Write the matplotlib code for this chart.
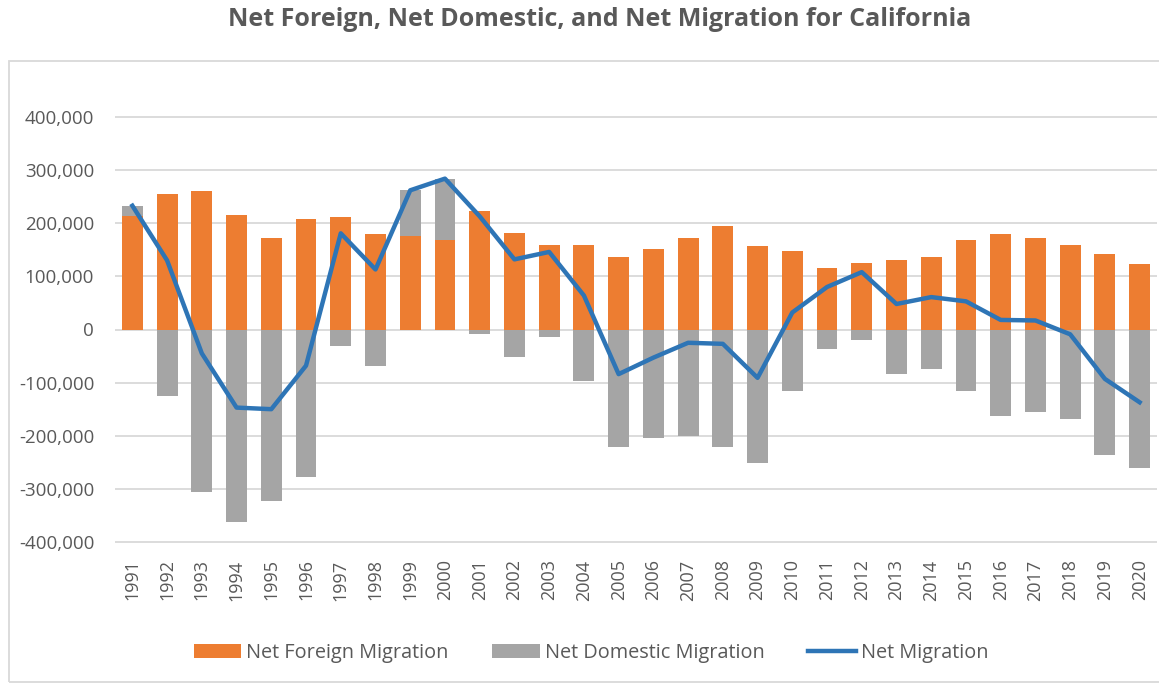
import numpy as np
import matplotlib
matplotlib.use('Agg')
import matplotlib.pyplot as plt
from matplotlib.patches import Patch, Rectangle
from matplotlib.lines import Line2D
from matplotlib.ticker import FuncFormatter

years = [str(y) for y in range(1991, 2021)]
# values (persons)
net_foreign = [213000, 256000, 261000, 215000, 173000, 208000, 211000, 180000, 176000, 168000,
               223000, 182000, 160000, 160000, 137000, 151000, 173000, 194000, 158000, 147000,
               116000, 126000, 130000, 136000, 168000, 180000, 172000, 159000, 143000, 124000]
net_domestic = [20000, -126000, -306000, -362000, -323000, -278000, -31000, -68000, 86000, 116000,
                -9000, -51000, -15000, -97000, -222000, -205000, -200000, -222000, -251000, -116000,
                -36000, -19000, -83000, -75000, -115000, -163000, -155000, -168000, -236000, -261000]
net_migration = [233000, 130000, -45000, -147000, -150000, -68000, 181000, 113000, 262000, 284000,
                 213000, 132000, 146000, 64000, -84000, -53000, -25000, -27000, -91000, 32000,
                 80000, 108000, 48000, 61000, 53000, 18000, 17000, -9000, -93000, -137000]

orange = '#ED7D31'
gray = '#A5A5A5'
blue = '#2E75B6'
txt = '#595959'

plt.rcParams['font.family'] = ['Open Sans', 'DejaVu Sans']

W, H = 1159, 689
fig = plt.figure(figsize=(W / 100, H / 100), dpi=100)

# chart frame
fig.patches.append(Rectangle((9 / W, 1 - 682 / H), 1.2, (682 - 61) / H, transform=fig.transFigure,
                             fill=False, edgecolor='#D9D9D9', linewidth=1.3))

fig.text(600 / W, 1 - 20 / H, 'Net Foreign, Net Domestic, and Net Migration for California',
         ha='center', va='center', fontsize=18, fontweight='bold', color=txt)

pad = 4000
top_px, bot_px = 117 - 53.1 * pad / 100000, 542 + 53.1 * pad / 100000
ax = fig.add_axes([115 / W, 1 - bot_px / H, (1157 - 115) / W, (bot_px - top_px) / H])

x = np.arange(len(years))
dom = np.array(net_domestic)
fore = np.array(net_foreign)
bottom = np.where(dom > 0, fore, 0)
ax.bar(x, fore, width=0.6, color=orange, zorder=2)
ax.bar(x, dom, width=0.6, bottom=bottom, color=gray, zorder=2)
ax.plot(x, net_migration, color=blue, linewidth=3.2, zorder=3, solid_joinstyle='round')

ax.set_xlim(-0.5, len(years) - 0.5)
ax.set_ylim(-400000 - pad, 400000 + pad)
ax.set_yticks(np.arange(-400000, 400001, 100000))
ax.yaxis.set_major_formatter(FuncFormatter(lambda v, p: '{:,.0f}'.format(v)))
ax.set_xticks(x)
ax.set_xticklabels(years, rotation=90)
ax.grid(axis='y', color='#D9D9D9', linewidth=1.3, zorder=0)
ax.set_axisbelow(True)
for s in ax.spines.values():
    s.set_visible(False)
ax.tick_params(axis='y', length=0, pad=15, labelsize=13.5, labelcolor=txt)
ax.tick_params(axis='x', length=0, pad=11, labelsize=13, labelcolor=txt)

handles = [Patch(facecolor=orange, label='Net Foreign Migration'),
           Patch(facecolor=gray, label='Net Domestic Migration'),
           Line2D([0], [0], color=blue, linewidth=3.2, label='Net Migration')]
fig.legend(handles=handles, loc='center', bbox_to_anchor=(591 / W, 1 - 653 / H), ncol=3,
           frameon=False, fontsize=14.3, labelcolor=txt, handlelength=2.4, handleheight=0.65,
           handletextpad=0.25, columnspacing=2.2)

fig.savefig('out.png', dpi=100)
